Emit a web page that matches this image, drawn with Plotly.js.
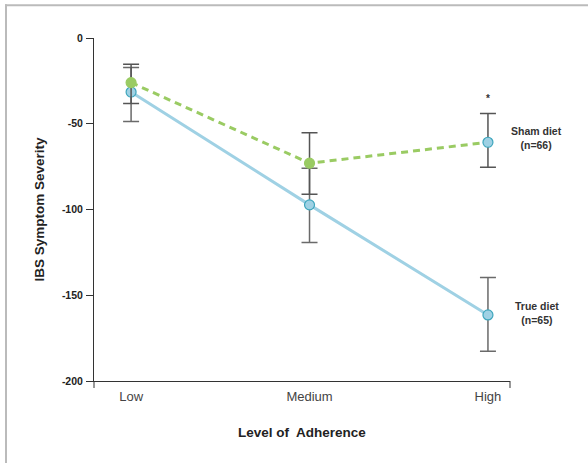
<!DOCTYPE html>
<html>
<head>
<meta charset="utf-8">
<script src="https://cdn.plot.ly/plotly-3.0.1.min.js"></script>
<style>
html,body{margin:0;padding:0;background:#fff;}
#chart{width:588px;height:463px;}
</style>
</head>
<body>
<div id="chart"></div>
<script>
// Data
const categories = ["Low", "Medium", "High"];
const shamValues = [-26.0, -73.0, -60.8];
const shamUpper = [-15.3, -55.3, -44.0];
const shamLower = [-38.2, -91.1, -75.3];
const trueValues = [-31.5, -97.3, -161.5];
const trueUpper = [-17.2, -76.0, -139.6];
const trueLower = [-48.7, -119.2, -182.7];
const yTickVals = [0, -50, -100, -150, -200];
const yTickText = ["0", "-50", "-100", "-150", "-200"];

const catIdx = categories.map((c, i) => i);
const diff = (a, b) => a.map((v, i) => Math.abs(v - b[i]));

const GREEN = "#9acb63";
const BLUE = "#9fd1e4";
const BLUE_EDGE = "#3ea6bd";
const TEXT = "#333333";

const trueTrace = {
  x: catIdx, y: trueValues, type: "scatter", mode: "lines+markers",
  line: {color: BLUE, width: 3},
  marker: {size: 10, color: BLUE, line: {color: BLUE_EDGE, width: 1.2}},
  error_y: {type: "data", symmetric: false,
    array: diff(trueUpper, trueValues), arrayminus: diff(trueValues, trueLower),
    color: "#6a6a6a", thickness: 1.5, width: 8},
  showlegend: false, hoverinfo: "skip"
};
const shamTrace = {
  x: catIdx, y: shamValues, type: "scatter", mode: "lines+markers",
  line: {color: GREEN, width: 3, dash: "7px,5px"},
  marker: {size: 10, color: [GREEN, GREEN, BLUE], line: {color: [GREEN, GREEN, BLUE_EDGE], width: 1.2}},
  error_y: {type: "data", symmetric: false,
    array: diff(shamUpper, shamValues), arrayminus: diff(shamValues, shamLower),
    color: "#555555", thickness: 1.5, width: 8},
  showlegend: false, hoverinfo: "skip"
};

const L = 94, R = 78, T = 37.7, B = 82;
const W = 588, H = 463;
const pw = W - L - R, ph = H - T - B;
const xLeft = -37 / 178, xRight = 2 + 22 / 178;
const px2x = (p) => (p - L) / pw;
const py2y = (p) => (H - B - p) / ph;

const layout = {
  width: W, height: H,
  margin: {l: L, r: R, t: T, b: B, pad: 0},
  paper_bgcolor: "#fff", plot_bgcolor: "#fff",
  font: {family: "Liberation Sans, Arial, sans-serif", color: TEXT},
  xaxis: {
    range: [xLeft, xRight], tickvals: catIdx, ticktext: categories,
    showgrid: false, zeroline: false, showline: true, linecolor: "#333", linewidth: 1,
    ticks: "", tickfont: {size: 13, color: "#444"}, ticklabelstandoff: 3,
    title: {text: "<b>Level of&nbsp; Adherence</b>", font: {size: 13.5, color: "#222"}, standoff: 24}
  },
  yaxis: {
    range: [-200, 0], tickvals: yTickVals, ticktext: yTickText,
    showgrid: false, zeroline: false, showline: true, linecolor: "#333", linewidth: 1,
    ticks: "outside", ticklen: 7, tickcolor: "#333", tickwidth: 1,
    tickfont: {size: 10.5, color: "#222", weight: "bold"}, ticklabelstandoff: 1,
    title: {text: "<b>IBS Symptom Severity</b>", font: {size: 13.5, color: "#222"}, standoff: 14}
  },
  shapes: [
    {type: "line", xref: "paper", yref: "paper", x0: 0, x1: 0, y0: 0, y1: -7 / ph, line: {color: "#333", width: 1}},
    {type: "line", xref: "paper", yref: "paper", x0: 1, x1: 1, y0: 0, y1: -7 / ph, line: {color: "#333", width: 1}},
    {type: "line", xref: "paper", yref: "paper", x0: px2x(6), x1: px2x(6), y0: py2y(4), y1: py2y(470), line: {color: "#bbbbbb", width: 2}},
    {type: "line", xref: "paper", yref: "paper", x0: px2x(5), x1: px2x(595), y0: py2y(5), y1: py2y(5), line: {color: "#bbbbbb", width: 2}}
  ],
  annotations: [
    {x: 2, y: shamUpper[2], xref: "x", yref: "y", text: "*", showarrow: false, yshift: 15, font: {size: 10, color: "#333", weight: "bold"}},
    {x: 2, y: shamValues[2], xref: "x", yref: "y", text: "<b>Sham diet<br>(n=66)</b>", showarrow: false, xanchor: "center", xshift: 49, yshift: 4, font: {size: 10.5, color: "#333"}},
    {x: 2, y: trueValues[2], xref: "x", yref: "y", text: "<b>True diet<br>(n=65)</b>", showarrow: false, xanchor: "center", xshift: 49, yshift: 2, font: {size: 10.5, color: "#333"}}
  ]
};

Plotly.newPlot("chart", [trueTrace, shamTrace], layout, {displayModeBar: false, staticPlot: true});
</script>
</body>
</html>
